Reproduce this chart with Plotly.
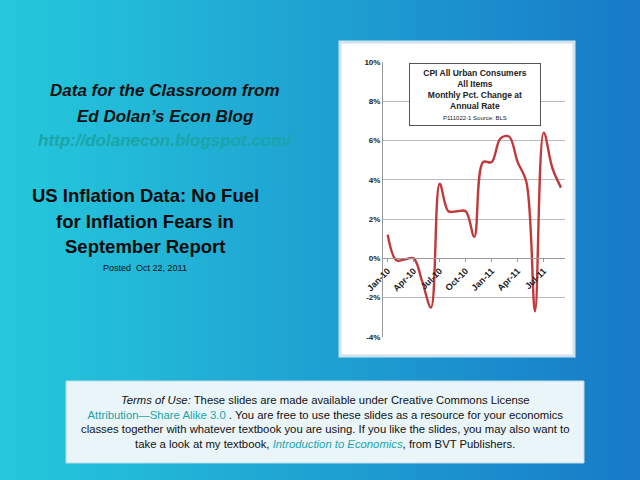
import plotly.graph_objects as go

months = ["Jan-10", "Feb-10", "Mar-10", "Apr-10", "May-10", "Jun-10", "Jul-10", "Aug-10",
          "Sep-10", "Oct-10", "Nov-10", "Dec-10", "Jan-11", "Feb-11", "Mar-11", "Apr-11",
          "May-11", "Jun-11", "Jul-11", "Aug-11", "Sep-11"]
cpi_change = [1.2, -0.1, -0.05, 0.0, -1.2, -2.5, 3.8, 2.4, 2.4, 2.4, 1.1, 4.9,
              4.9, 6.1, 6.2, 4.9, 3.9, -2.7, 6.4, 4.6, 3.6]
y_ticks = [-4, -2, 0, 2, 4, 6, 8, 10]

FONT = "Liberation Sans, Arial, sans-serif"
idx = list(range(len(months)))

fig = go.Figure(go.Scatter(x=idx, y=cpi_change, mode="lines", line_shape="spline",
                           line=dict(color="#c0393b", width=2.4), hoverinfo="skip"))

# background gradient (cyan left -> blue right) built from strips
shapes = []
n = 40
for i in range(n):
    t = i / (n - 1)
    r = int(0x25 + (0x18 - 0x25) * t)
    g = int(0xc8 + (0x7c - 0xc8) * t)
    b = int(0xdc + (0xc8 - 0xdc) * t)
    shapes.append(dict(type="rect", xref="paper", yref="paper", x0=i / n, x1=(i + 1) / n + 0.002,
                       y0=0, y1=1, fillcolor=f"rgb({r},{g},{b})", line_width=0, layer="below"))
# chart panel
shapes.append(dict(type="rect", xref="paper", yref="paper", x0=340 / 640, x1=574 / 640,
                   y0=1 - 356 / 480, y1=1 - 42 / 480, fillcolor="white",
                   line=dict(color="#cfe3ee", width=3), layer="below"))
# terms box
shapes.append(dict(type="rect", xref="paper", yref="paper", x0=66 / 640, x1=584 / 640,
                   y0=1 - 463 / 480, y1=1 - 381 / 480, fillcolor="#e9f5f9",
                   line=dict(color="#bcdbe6", width=1), layer="below"))

ann = [
    dict(x=165 / 640, y=1 - 90 / 480, text="<b><i>Data for the Classroom from</i></b>",
         font=dict(size=17, color="#111")),
    dict(x=165 / 640, y=1 - 116 / 480, text="<b><i>Ed Dolan’s Econ Blog</i></b>",
         font=dict(size=17, color="#111")),
    dict(x=165 / 640, y=1 - 141 / 480, text="<b><i>http://dolanecon.blogspot.com/</i></b>",
         font=dict(size=17, color="#1aa5a8")),
    dict(x=145 / 640, y=1 - 195 / 480, text="<b>US Inflation Data: No Fuel</b>",
         font=dict(size=18.5, color="#0b0b0b")),
    dict(x=145 / 640, y=1 - 221 / 480, text="<b>for Inflation Fears in</b>",
         font=dict(size=18.5, color="#0b0b0b")),
    dict(x=145 / 640, y=1 - 247 / 480, text="<b>September Report</b>",
         font=dict(size=18.5, color="#0b0b0b")),
    dict(x=145 / 640, y=1 - 268 / 480, text="Posted  Oct 22, 2011",
         font=dict(size=9, color="#111")),
    dict(x=475 / 640, y=1 - 95 / 480,
         text="<b>CPI All Urban Consumers<br>All Items<br>Monthly Pct. Change at<br>Annual Rate</b>"
              "<br><span style='font-size:6px'>P111022-1 Source: BLS</span>",
         font=dict(size=8.5, color="#222"), bordercolor="#555", borderwidth=1,
         bgcolor="white", borderpad=4, width=122),
    dict(x=325 / 640, y=1 - 422 / 480,
         text="<i>Terms of Use:</i> These slides are made available under Creative Commons License<br>"
              "<span style='color:#1aa5a8'>Attribution—Share Alike 3.0</span> . You are free to use these slides as a resource for your economics<br>"
              "classes together with whatever textbook you are using. If you like the slides, you may also want to<br>"
              "take a look at my textbook, <i><span style='color:#1aa5a8'>Introduction to Economics</span></i>, from BVT Publishers.",
         font=dict(size=11.3, color="#111")),
]
for a in ann:
    a.update(xref="paper", yref="paper", showarrow=False, xanchor="center", yanchor="middle")
    a["font"]["family"] = FONT

fig.update_layout(
    width=640, height=480, margin=dict(l=0, r=0, t=0, b=0, pad=0),
    paper_bgcolor="#1f9fd2", plot_bgcolor="rgba(0,0,0,0)",
    shapes=shapes, annotations=ann, showlegend=False,
    xaxis=dict(domain=[383 / 640, 565 / 640], range=[-0.54, 20.46], anchor="free",
               position=0.462, tickvals=idx[::3], ticktext=[f"<b>{m}</b>" for m in months[::3]],
               tickangle=-45,
               showgrid=False, showline=True, linecolor="#999", ticks="outside",
               ticklen=3, tickcolor="#999", zeroline=False, automargin=False,
               tickfont=dict(family=FONT, size=9, color="#222")),
    yaxis=dict(domain=[0.298, 0.871], range=[-4, 10], tickvals=y_ticks, automargin=False,
               ticktext=[f"<b>{v}%</b>" for v in y_ticks], showgrid=True, gridcolor="#bbb",
               showline=True, linecolor="#999", zeroline=False,
               tickfont=dict(family=FONT, size=8, color="#222")),
)

fig.write_html("out.html", config={"displayModeBar": False},
               post_script="document.body.style.margin='0';document.body.style.overflow='hidden';")
